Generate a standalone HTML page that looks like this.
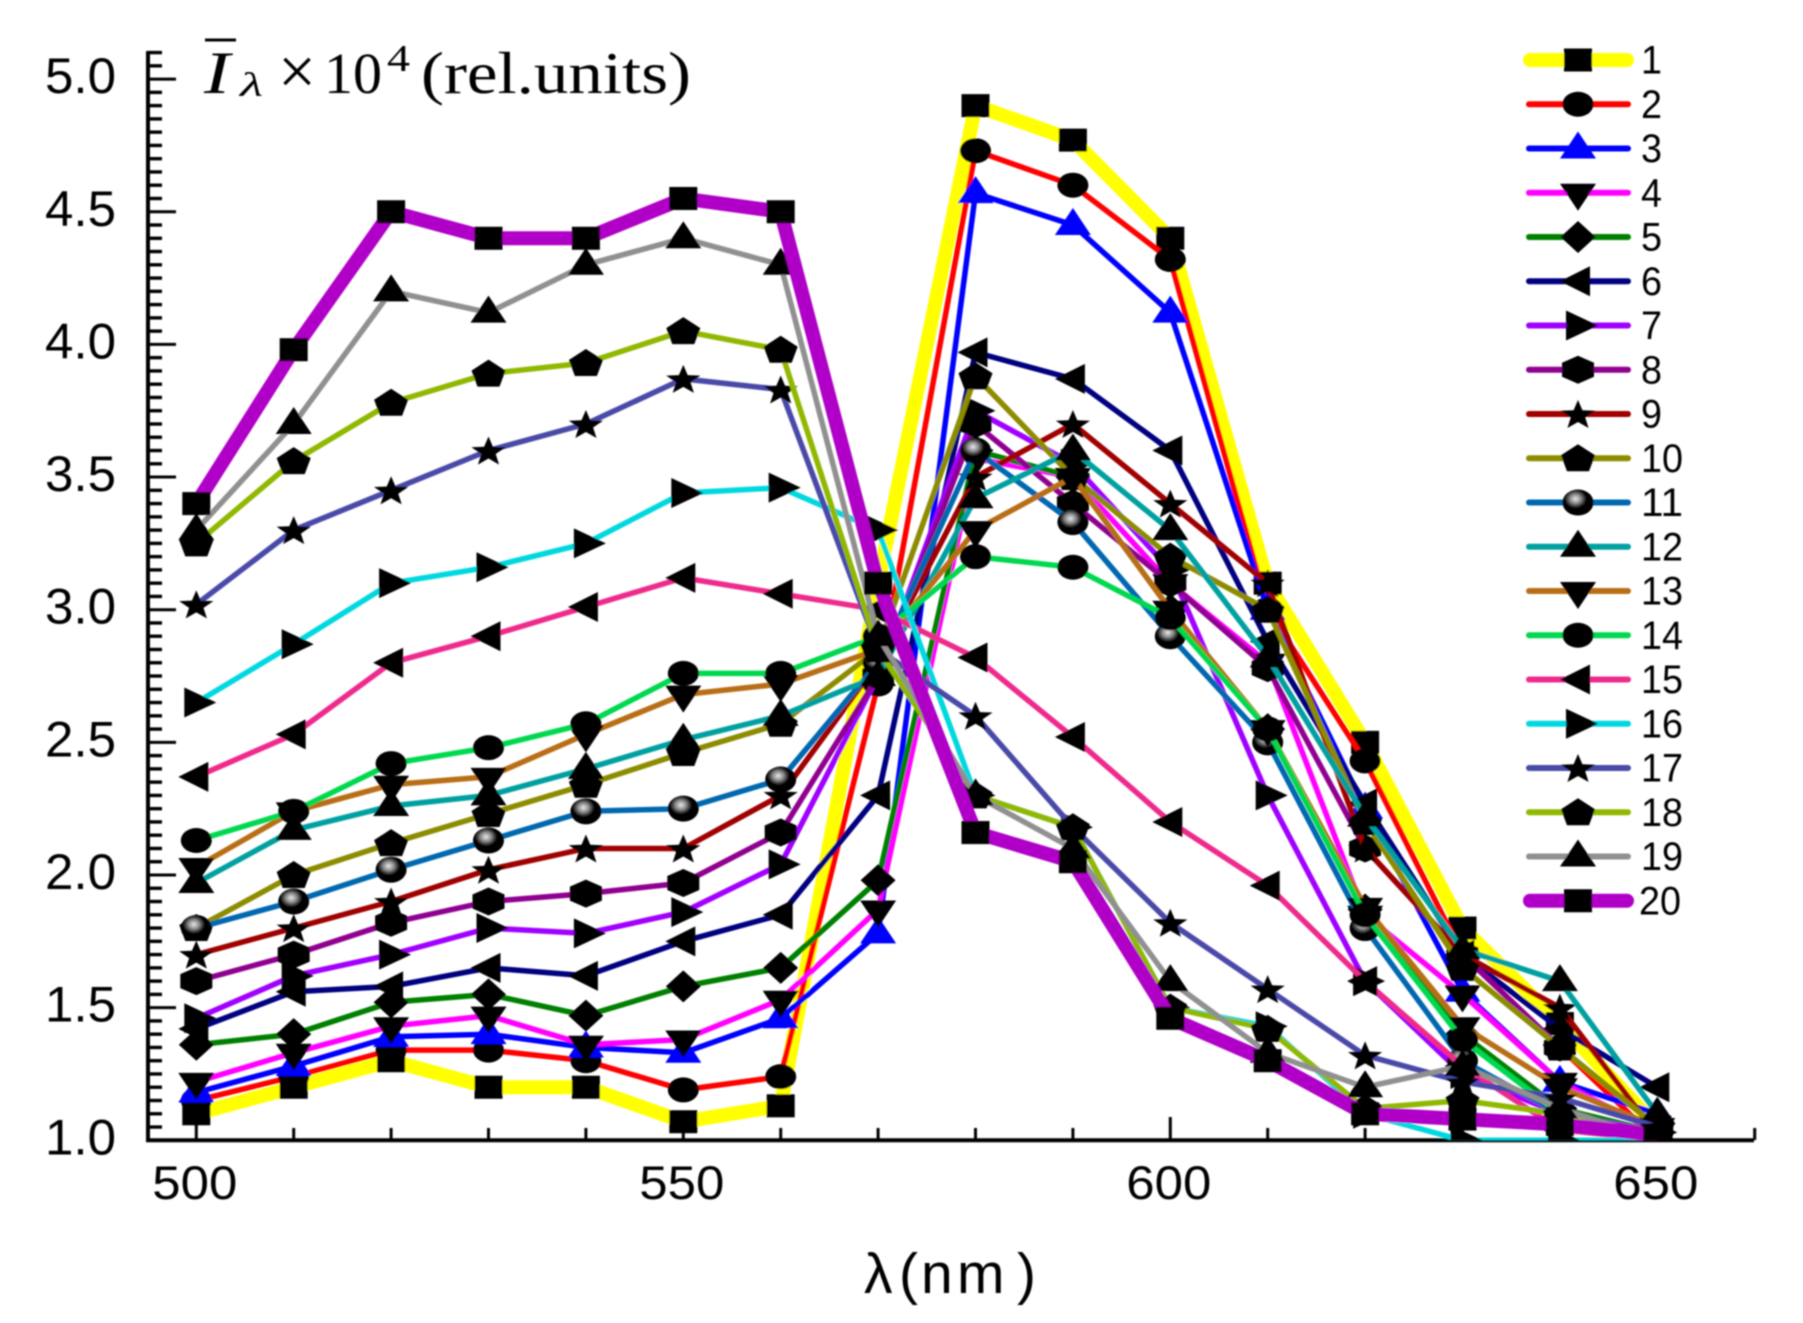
<!DOCTYPE html>
<html>
<head>
<meta charset="utf-8">
<title>Spectral intensity chart</title>
<style>
html,body{margin:0;padding:0;background:#fff;}
svg{display:block;}
</style>
</head>
<body>
<svg id="chart" xmlns="http://www.w3.org/2000/svg" width="1803" height="1323" viewBox="0 0 1803 1323">
<defs>
<filter id="soft" x="-2%" y="-2%" width="104%" height="104%"><feGaussianBlur stdDeviation="0.7"/></filter>
<radialGradient id="ball" cx="0.42" cy="0.36" r="0.6">
<stop offset="0" stop-color="#e8e8e8"/><stop offset="0.3" stop-color="#888"/><stop offset="0.6" stop-color="#000"/><stop offset="1" stop-color="#000"/>
</radialGradient>
<clipPath id="plot-clip"><rect x="148" y="40" width="1620" height="1100.3"/></clipPath>
</defs>
<rect x="0" y="0" width="1803" height="1323" fill="#fff"/>
<g id="root" filter="url(#soft)">
<g fill="#000">
<rect x="205" y="38.5" width="31" height="3"/>
<text x="204" y="93" font-family="Liberation Serif, serif" font-style="italic" font-size="60" textLength="26" lengthAdjust="spacingAndGlyphs" font-weight="normal">I</text>
<text x="240" y="96" font-family="Liberation Serif, serif" font-style="italic" font-size="34" textLength="23" lengthAdjust="spacingAndGlyphs">λ</text>
<text x="278" y="94" font-family="Liberation Serif, serif" font-size="68" textLength="38" lengthAdjust="spacingAndGlyphs">×</text>
<text x="324" y="93" font-family="Liberation Serif, serif" font-size="58" textLength="58" lengthAdjust="spacingAndGlyphs">10</text>
<text x="387" y="71" font-family="Liberation Serif, serif" font-size="38" textLength="23" lengthAdjust="spacingAndGlyphs">4</text>
<text x="421" y="93" font-family="Liberation Serif, serif" font-size="59" textLength="270" lengthAdjust="spacingAndGlyphs">(rel.units)</text>
</g>
<text x="864 899 921 957 1017" y="1293" fill="#000" font-family="Liberation Sans, sans-serif" font-size="57">λ(nm)</text>
<g id="axes"></g>
<g id="series" clip-path="url(#plot-clip)"></g>
<g id="legend"></g>
</g>
</svg>
<script>
const wavelengths = [500,510,520,530,540,550,560,570,580,590,600,610,620,630,640,650];
const series1  = [1.10,1.20,1.30,1.20,1.20,1.07,1.13,3.10,4.90,4.77,4.40,3.10,2.50,1.80,1.44,1.05];
const series2  = [1.15,1.24,1.34,1.34,1.30,1.19,1.24,2.72,4.73,4.60,4.32,3.00,2.43,1.70,1.35,1.00];
const series3  = [1.18,1.28,1.39,1.40,1.35,1.33,1.46,1.78,4.57,4.45,4.12,3.00,2.25,1.56,1.22,1.10];
const series4  = [1.22,1.33,1.43,1.47,1.36,1.38,1.53,1.87,3.57,3.50,3.10,2.80,1.85,1.55,1.22,1.03];
const series5  = [1.36,1.40,1.52,1.55,1.47,1.58,1.65,1.98,3.60,3.50,3.00,2.55,1.87,1.40,1.12,1.03];
const series6  = [1.42,1.56,1.58,1.65,1.62,1.75,1.85,2.30,3.97,3.87,3.60,2.88,2.27,1.70,1.42,1.20];
const series7  = [1.46,1.62,1.70,1.80,1.78,1.86,2.04,2.75,3.75,3.55,3.15,2.30,1.60,1.25,1.10,1.03];
const series8  = [1.60,1.70,1.82,1.90,1.93,1.97,2.16,2.75,3.70,3.40,3.10,2.78,2.10,1.70,1.35,1.05];
const series9  = [1.70,1.80,1.90,2.02,2.10,2.10,2.30,2.80,3.50,3.70,3.40,3.10,2.10,1.70,1.50,1.02];
const series10 = [1.80,2.00,2.12,2.23,2.34,2.46,2.57,2.85,3.88,3.50,3.20,3.00,2.20,1.65,1.35,1.05];
const series11 = [1.80,1.90,2.02,2.13,2.24,2.25,2.36,2.80,3.60,3.33,2.90,2.50,1.80,1.30,1.10,1.00];
const series12 = [1.97,2.17,2.26,2.30,2.40,2.51,2.60,2.75,3.42,3.60,3.30,2.82,2.22,1.72,1.60,1.10];
const series13 = [2.03,2.24,2.34,2.37,2.53,2.68,2.72,2.85,3.30,3.50,3.00,2.55,1.88,1.43,1.20,1.05];
const series14 = [2.13,2.24,2.42,2.48,2.57,2.76,2.76,2.90,3.20,3.16,2.97,2.55,1.85,1.38,1.10,1.00];
const series15 = [2.37,2.53,2.80,2.90,3.01,3.12,3.06,3.00,2.82,2.52,2.20,1.96,1.60,1.28,1.04,1.00];
const series16 = [2.65,2.87,3.10,3.16,3.25,3.44,3.46,3.30,2.30,2.18,1.50,1.43,1.10,1.00,1.00,1.00];
const series17 = [3.02,3.30,3.45,3.60,3.70,3.87,3.83,2.85,2.60,2.18,1.82,1.57,1.32,1.22,1.16,1.05];
const series18 = [3.25,3.56,3.78,3.89,3.93,4.05,3.98,2.85,2.30,2.18,1.50,1.42,1.12,1.15,1.10,1.02];
const series19 = [3.30,3.70,4.20,4.12,4.30,4.40,4.30,2.90,2.30,2.10,1.60,1.33,1.20,1.28,1.12,1.00];
const series20 = [3.40,3.98,4.50,4.40,4.40,4.55,4.50,3.10,2.16,2.05,1.46,1.30,1.10,1.08,1.06,1.02];
const yTickLabels = ["1.0","1.5","2.0","2.5","3.0","3.5","4.0","4.5","5.0"];
const xTickLabels = ["500","550","600","650"];
const allSeries = [series1,series2,series3,series4,series5,series6,series7,series8,series9,series10,series11,series12,series13,series14,series15,series16,series17,series18,series19,series20];
const seriesNames = ["1","2","3","4","5","6","7","8","9","10","11","12","13","14","15","16","17","18","19","20"];

const lineColors = ["#ffff00","#ff0000","#0000ff","#ff00ff","#008000","#000080","#a000ff","#900090","#a00000","#8c8c00","#0068b0","#00a0a0","#b86e14","#00d850","#ee2a8c","#00d8e0","#4a4aa8","#90b800","#909090","#b000c8"];
const markerKinds = ["square","circle","up","down","diamond","left","right","hexagon","star","pentagon","ball","up","down","circle","left","right","star","pentagon","up","square"];

const SVGNS = "http://www.w3.org/2000/svg";
function x(v){ return 196.3 + (v - 500) * 9.74; }
function y(v){ return 1140.3 - (v - 1) * 265.3; }
function make(tag, attrs, parent){
  const el = document.createElementNS(SVGNS, tag);
  for (const k in attrs) el.setAttribute(k, attrs[k]);
  parent.appendChild(el);
  return el;
}
function starPoints(cx, cy){
  const pts = [];
  for (let i = 0; i < 10; i++){
    const a = -Math.PI / 2 + i * Math.PI / 5;
    const r = i % 2 === 0 ? 1 : 0.42;
    pts.push((cx + 18 * r * Math.cos(a)).toFixed(1) + "," + (cy + 1.5 + 15.5 * r * Math.sin(a)).toFixed(1));
  }
  return pts.join(" ");
}
function offsetPoints(cx, cy, list){
  return list.map(function(p){ return (cx + p[0]) + "," + (cy + p[1]); }).join(" ");
}
function drawMarker(kind, cx, cy, fill, parent){
  if (kind === "square") return make("rect", {x: cx - 14, y: cy - 11.5, width: 28, height: 23, fill: fill}, parent);
  if (kind === "circle") return make("ellipse", {cx: cx, cy: cy, rx: 15.5, ry: 12.5, fill: fill}, parent);
  if (kind === "ball") return make("ellipse", {cx: cx, cy: cy, rx: 15.5, ry: 13, fill: "url(#ball)"}, parent);
  if (kind === "star") return make("polygon", {points: starPoints(cx, cy), fill: fill}, parent);
  const shapes = {
    up: [[0,-17],[18,10],[-18,10]],
    down: [[-18,-9],[18,-9],[0,18]],
    diamond: [[0,-16],[17.5,0],[0,16],[-17.5,0]],
    left: [[-18,0],[12,-15],[12,15]],
    right: [[-12,-15],[20,0],[-12,15]],
    hexagon: [[0,-14],[16,-7],[16,7],[0,14],[-16,7],[-16,-7]],
    pentagon: [[0,-14],[17,-3],[11,13],[-11,13],[-17,-3]]
  };
  return make("polygon", {points: offsetPoints(cx, cy, shapes[kind]), fill: fill}, parent);
}

// Axes
const axes = document.getElementById("axes");
const yLine = make("line", {x1: 148, y1: 51, x2: 148, y2: 1142, stroke: "#000", "stroke-width": 4}, axes);


const xLine = make("line", {x1: 146, y1: 1140.3, x2: 1754, y2: 1140.3, stroke: "#000", "stroke-width": 4}, axes);


for (let i = 0; i <= 82; i++){
  const v = 1 + i * 0.05;
  const major = i % 10 === 0;
  const t = make("line", {x1: 148, y1: y(v), x2: major ? 176 : 162, y2: y(v), stroke: "#000", "stroke-width": major ? 3 : 3.4}, axes);
  
  
}
for (let w = 500; w <= 660; w += 10){
  const major = w % 50 === 0;
  const t = make("line", {x1: x(w), y1: 1140, x2: x(w), y2: major ? 1117 : 1128, stroke: "#000", "stroke-width": 3}, axes);
  
  
}
yTickLabels.forEach(function(label){
  const t = make("text", {x: 45, y: y(parseFloat(label)) + 14, "font-family": "Liberation Sans, sans-serif", "font-size": 50, fill: "#000", textLength: 71, lengthAdjust: "spacingAndGlyphs"}, axes);
  t.textContent = label;
  
  
});
xTickLabels.forEach(function(label){
  const t = make("text", {x: x(parseFloat(label)) - 44, y: 1199, "font-family": "Liberation Sans, sans-serif", "font-size": 47, fill: "#000", textLength: 85, lengthAdjust: "spacingAndGlyphs"}, axes);
  t.textContent = label;
  
  
});

// Series
const seriesRoot = document.getElementById("series");
allSeries.forEach(function(values, s){
  const thick = s === 0 || s === 19;
  const g = make("g", {}, seriesRoot);
  
  
  const pts = values.map(function(v, i){ return x(wavelengths[i]).toFixed(1) + "," + y(v).toFixed(1); }).join(" ");
  const line = make("polyline", {points: pts, fill: "none", stroke: lineColors[s], "stroke-width": thick ? 14 : 5.5, "stroke-linejoin": "round"}, g);
  
  
  values.forEach(function(v, i){
    const m = drawMarker(markerKinds[s], x(wavelengths[i]), y(v), s === 2 ? "#0000ff" : "#000", g);
    
    
  });
});

// Legend
const legend = document.getElementById("legend");
seriesNames.forEach(function(name, s){
  const thick = s === 0 || s === 19;
  const ly = 60 + s * 44.25;
  const g = make("g", {}, legend);
  
  
  const l = make("line", {x1: thick ? 1530 : 1529, y1: ly, x2: thick ? 1627 : 1628, y2: ly, stroke: lineColors[s], "stroke-width": thick ? 14 : 6, "stroke-linecap": "round"}, g);
  
  
  const m = drawMarker(markerKinds[s], 1578, ly, s === 2 ? "#0000ff" : "#000", g);
  
  
  const t = make("text", {x: s === 19 ? 1639 : 1641, y: ly + 13.5, "font-family": "Liberation Sans, sans-serif", "font-size": 40, fill: "#000", textLength: name.length === 1 ? 21 : 42, lengthAdjust: "spacingAndGlyphs"}, g);
  t.textContent = name;
  
  
});
</script>
</body>
</html>
